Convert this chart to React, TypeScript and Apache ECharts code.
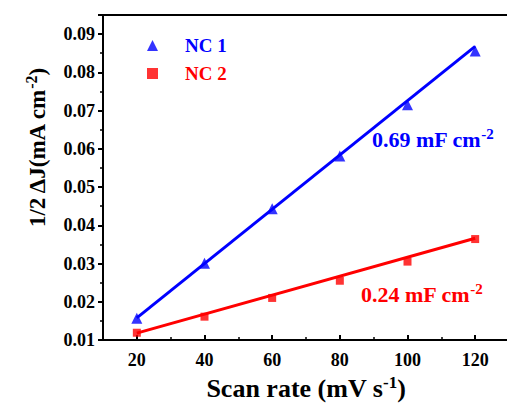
import React, { useEffect, useRef } from "react";
import * as echarts from "echarts";

const scanRates = [20, 40, 60, 80, 100, 120];
const nc1Values = [0.0157, 0.0301, 0.0443, 0.0581, 0.0715, 0.0856];
const nc2Values = [0.0119, 0.0161, 0.021, 0.0255, 0.0305, 0.0364];
const nc1FitX = [20, 120];
const nc1FitY = [0.0158, 0.0868];
const nc2FitX = [20, 120];
const nc2FitY = [0.0118, 0.0366];
const xMajorTicks = [20, 40, 60, 80, 100, 120];
const xMinorTicks = [30, 50, 70, 90, 110];
const seriesNames = ["NC 1", "NC 2"];
const slopeLabels = ["0.69 mF cm", "0.24 mF cm"];

const BLUE = "#0000ff";
const RED = "#ff0000";
const FONT = "'Liberation Serif', 'Times New Roman', serif";

export default function App() {
  const ref = useRef<HTMLDivElement>(null);
  useEffect(() => {
    if (!ref.current) return;
    const chart = echarts.init(ref.current, null, { renderer: "svg" });
    const pairs = (xs: number[], ys: number[]) => xs.map((x, i) => [x, ys[i]]);
    const sup = {
      fontFamily: FONT,
      fontWeight: "bold",
    };
    chart.setOption({
      animation: false,
      backgroundColor: "#ffffff",
      textStyle: { fontFamily: FONT },
      grid: {
        left: 103,
        right: -2,
        top: 15,
        bottom: 63,
        show: true,
        borderColor: "#000",
        borderWidth: 2,
        containLabel: false,
        outerBoundsMode: "none",
      },
      legend: {
        orient: "vertical",
        left: 142,
        top: 31,
        itemWidth: 11,
        itemHeight: 11,
        itemGap: 9,
        data: [
          { name: seriesNames[0], textStyle: { color: BLUE } },
          { name: seriesNames[1], textStyle: { color: RED } },
        ],
        textStyle: {
          fontFamily: FONT,
          fontWeight: "bold",
          fontSize: 19,
          padding: [0, 0, 0, 22],
        },
      },
      xAxis: [
        {
          type: "value",
          min: 10,
          max: 130,
          interval: 10,
          name: "{a|Scan rate (mV s}{s|-1}{a|)}",
          nameLocation: "middle",
          nameGap: 31,
          nameTextStyle: {
            rich: {
              a: { ...sup, fontSize: 26, lineHeight: 30, color: "#000" },
              s: { ...sup, fontSize: 17, lineHeight: 17, color: "#000", padding: [0, 0, 12, 0] },
            },
          },
          axisLine: { lineStyle: { color: "#000", width: 2 } },
          axisTick: {
            inside: true,
            length: 5,
            customValues: xMajorTicks,
            lineStyle: { width: 2, color: "#000" },
          },
          axisLabel: {
            fontFamily: FONT,
            fontWeight: "bold",
            fontSize: 18,
            color: "#000",
            margin: 11,
            customValues: xMajorTicks,
          },
          splitLine: { show: false },
        },
        {
          type: "value",
          min: 10,
          max: 130,
          interval: 10,
          position: "bottom",
          axisLine: { show: false },
          axisTick: {
            inside: true,
            length: 3,
            customValues: xMinorTicks,
            lineStyle: { width: 1.5, color: "#000" },
          },
          axisLabel: { show: false },
          splitLine: { show: false },
        },
      ],
      yAxis: {
        type: "value",
        min: 0.01,
        max: 0.095,
        interval: 0.01,
        axisLine: { lineStyle: { color: "#000", width: 2 } },
        axisTick: { inside: false, length: 5, lineStyle: { width: 2, color: "#000" } },
        minorTick: { show: true, splitNumber: 2, length: 3, lineStyle: { width: 1.5, color: "#000" } },
        axisLabel: {
          fontFamily: FONT,
          fontWeight: "bold",
          fontSize: 18,
          color: "#000",
          margin: 8,
          formatter: (v: number) => (v > 0.0905 ? "" : v.toFixed(2)),
        },
        splitLine: { show: false },
      },
      series: [
        {
          name: seriesNames[0],
          type: "scatter",
          symbol: "triangle",
          symbolSize: 11,
          itemStyle: { color: BLUE },
          data: pairs(scanRates, nc1Values),
          z: 3,
        },
        {
          name: seriesNames[1],
          type: "scatter",
          symbol: "rect",
          symbolSize: 8,
          itemStyle: { color: RED },
          data: pairs(scanRates, nc2Values),
          z: 3,
        },
        {
          name: "NC 1 fit",
          type: "line",
          showSymbol: false,
          symbol: "none",
          lineStyle: { color: BLUE, width: 3 },
          data: pairs(nc1FitX, nc1FitY),
          z: 2,
        },
        {
          name: "NC 2 fit",
          type: "line",
          showSymbol: false,
          symbol: "none",
          lineStyle: { color: RED, width: 3 },
          data: pairs(nc2FitX, nc2FitY),
          z: 2,
        },
      ],
      graphic: [
        {
          type: "text",
          x: 37,
          y: 148,
          rotation: Math.PI / 2,
          style: {
            text: "{a|1/2 ΔJ(mA cm}{s|-2}{a|)}",
            align: "center",
            verticalAlign: "middle",
            rich: {
              a: { ...sup, fontSize: 23, fill: "#000" },
              s: { ...sup, fontSize: 16, fill: "#000", padding: [0, 0, 11, 0] },
            },
          },
        },
        {
          type: "text",
          x: 372,
          y: 139,
          style: {
            text: "{a|" + slopeLabels[0] + "}{s|-2}",
            align: "left",
            verticalAlign: "middle",
            rich: {
              a: { ...sup, fontSize: 22, fill: BLUE },
              s: { ...sup, fontSize: 15, fill: BLUE, padding: [0, 0, 10, 0] },
            },
          },
        },
        {
          type: "text",
          x: 361,
          y: 294,
          style: {
            text: "{a|" + slopeLabels[1] + "}{s|-2}",
            align: "left",
            verticalAlign: "middle",
            rich: {
              a: { ...sup, fontSize: 22, fill: RED },
              s: { ...sup, fontSize: 15, fill: RED, padding: [0, 0, 10, 0] },
            },
          },
        },
      ],
    });
    return () => chart.dispose();
  }, []);
  return <div ref={ref} style={{ width: 507, height: 403, position: "absolute", left: 0, top: 0 }} />;
}
